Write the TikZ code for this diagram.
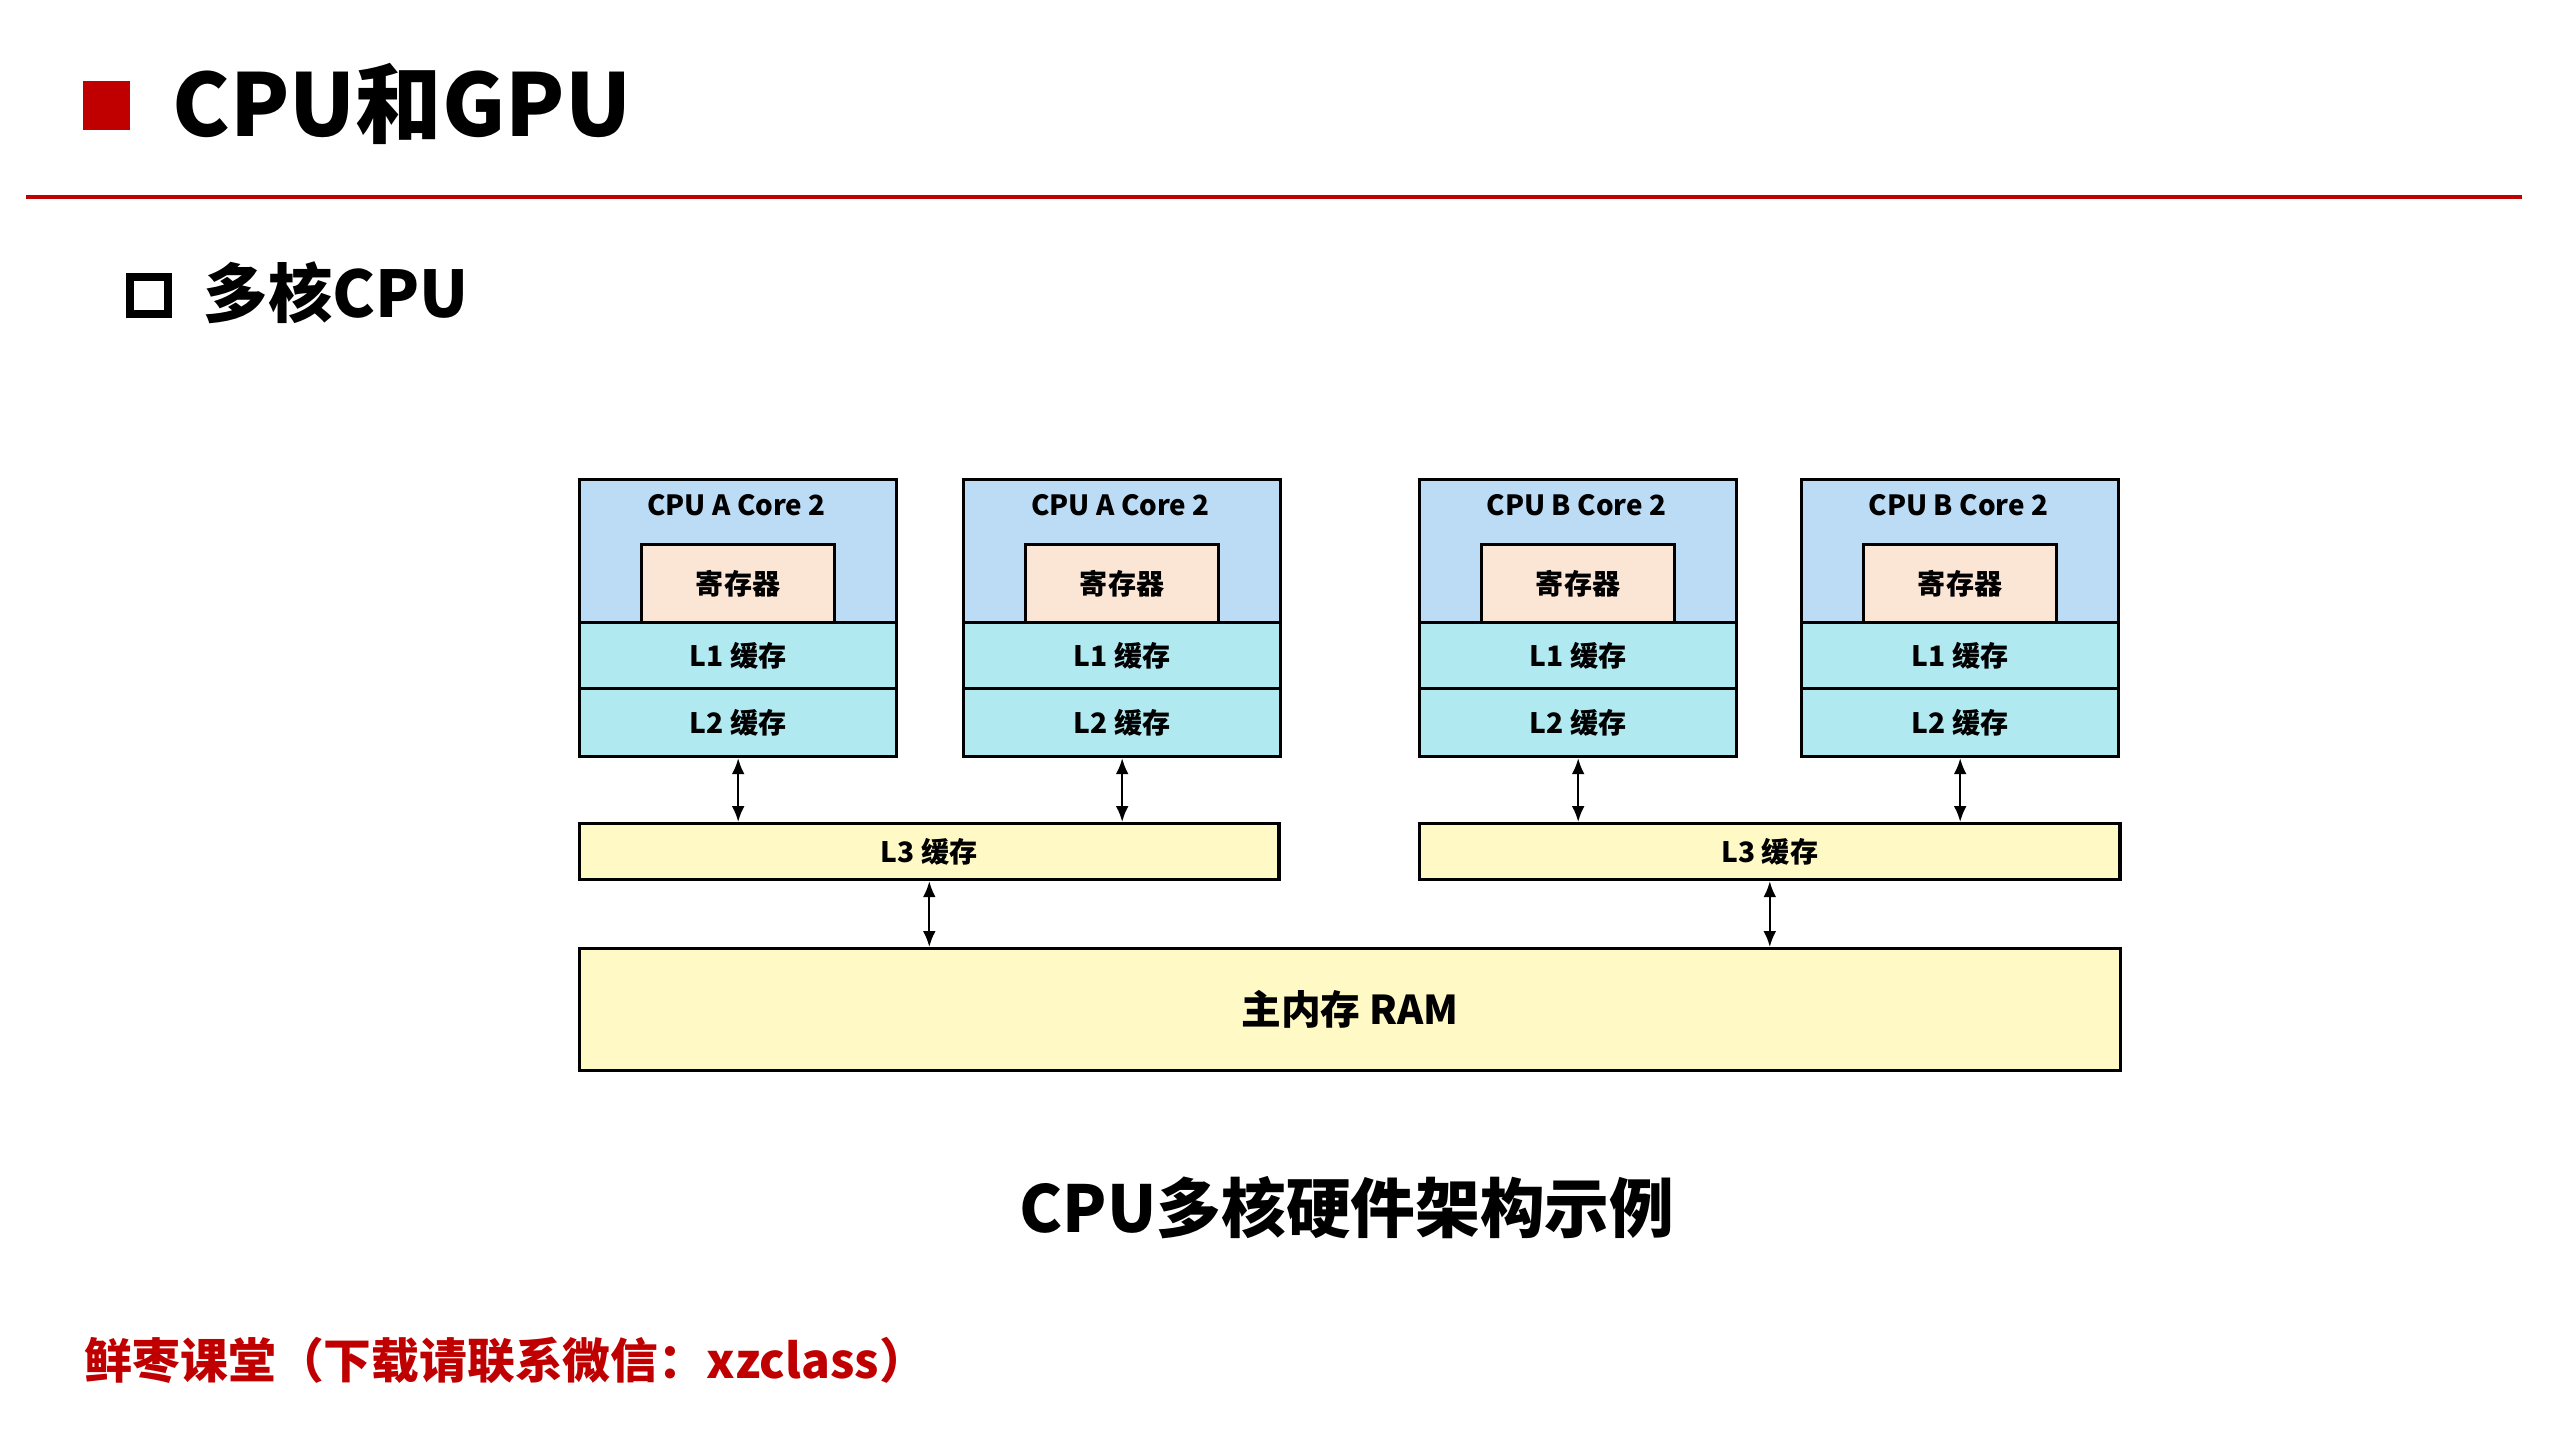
\documentclass[tikz,border=0pt]{standalone}
\usepackage{fontspec}
\setmainfont{Noto Sans CJK SC}
\usetikzlibrary{arrows.meta}
\definecolor{hdred}{HTML}{C00000}
\definecolor{coreblue}{HTML}{BCDCF6}
\definecolor{regpeach}{HTML}{FBE5D5}
\definecolor{cachecyan}{HTML}{B1E9F1}
\definecolor{memyellow}{HTML}{FFF9C6}
\tikzset{
  boxbase/.style={draw=black, line width=0.9pt, inner sep=0pt, font=\bfseries\fontsize{8pt}{10pt}\selectfont},
  corebg/.style={boxbase, fill=coreblue, minimum width=3.17cm, minimum height=1.43cm},
  regbox/.style={boxbase, fill=regpeach, minimum width=1.93cm, minimum height=0.78cm},
  cachebox/.style={boxbase, fill=cachecyan, minimum width=3.17cm},
  l3box/.style={boxbase, fill=memyellow, minimum height=0.56cm},
  rambox/.style={boxbase, fill=memyellow, minimum width=15.40cm, minimum height=1.22cm, font=\bfseries\fontsize{11.3pt}{13pt}\selectfont},
  lbl/.style={inner sep=0pt, font=\bfseries\fontsize{7.9pt}{10pt}\selectfont},
  biarrow/.style={line width=0.6pt, {Latex[length=4.5pt,width=3.6pt]}-{Latex[length=4.5pt,width=3.6pt]}}
}
\begin{document}
\begin{tikzpicture}[x=0.01cm,y=-0.01cm]
\useasboundingbox (0,0) rectangle (2561,1440);
% header
\fill[hdred] (83,81) rectangle (130,130);
\node[anchor=base west, inner sep=0pt, font=\bfseries\fontsize{24.6pt}{28pt}\selectfont] (title) at (172,137) {CPU和GPU};
\draw[hdred, line width=1.4pt] (26,197) -- (2522,197);
\draw[line width=2.27pt] (130,277) rectangle (168,314);
\node[anchor=base west, inner sep=0pt, font=\bfseries\fontsize{18.3pt}{22pt}\selectfont] (sub) at (203,318) {多核CPU};
% cores
\foreach \n/\xx/\lab in {a/578/CPU A Core 2, b/962/CPU A Core 2, c/1418/CPU B Core 2, d/1800/CPU B Core 2} {
  \node[corebg, anchor=north west] (core\n) at (\xx,478) {};
  \node[lbl] (name\n) at (\xx+158.5,505) {\lab};
  \node[regbox, anchor=north west] (reg\n) at (\xx+62,543) {寄存器};
  \node[cachebox, anchor=north west, minimum height=0.66cm] (l1\n) at (\xx,621) {L1 缓存};
  \node[cachebox, anchor=north west, minimum height=0.68cm] (l2\n) at (\xx,687) {L2 缓存};
}
\node[l3box, anchor=north west, minimum width=6.99cm] (l3L) at (578,822) {L3 缓存};
\node[l3box, anchor=north west, minimum width=7.00cm] (l3R) at (1418,822) {L3 缓存};
\node[rambox, anchor=north west] (ram) at (578,947) {主内存 RAM};
% connectors
\draw[biarrow] (l2a.south) -- (l2a.south |- l3L.north);
\draw[biarrow] (l2b.south) -- (l2b.south |- l3L.north);
\draw[biarrow] (l2c.south) -- (l2c.south |- l3R.north);
\draw[biarrow] (l2d.south) -- (l2d.south |- l3R.north);
\draw[biarrow] (l3L.south) -- (l3L.south |- ram.north);
\draw[biarrow] (l3R.south) -- (l3R.south |- ram.north);
% caption
\node[anchor=base, inner sep=0pt, font=\bfseries\fontsize{18.4pt}{22pt}\selectfont] (cap) at (1347,1232) {CPU多核硬件架构示例};
% footer
\node[anchor=base west, inner sep=0pt, text=hdred, font=\bfseries\fontsize{13.6pt}{16pt}\selectfont] (foot) at (84,1378) {鲜枣课堂（下载请联系微信：xzclass）};
\end{tikzpicture}
\end{document}
